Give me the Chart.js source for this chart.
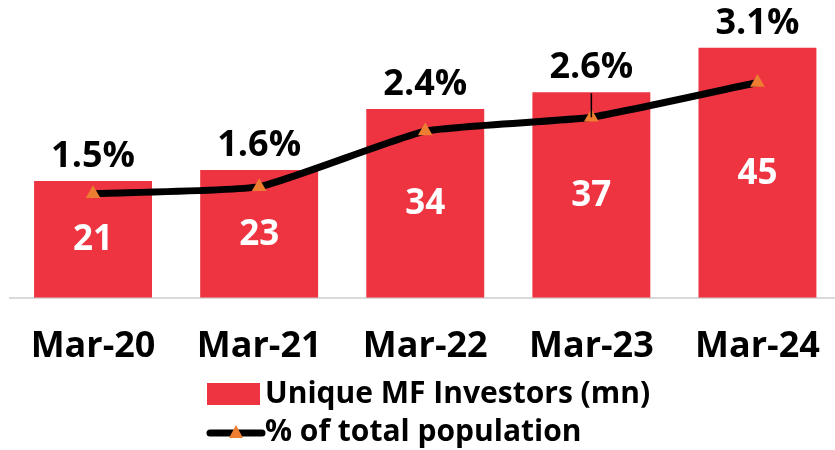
<!DOCTYPE html>
<html>
<head>
<meta charset="utf-8">
<script src="https://cdn.jsdelivr.net/npm/chart.js@4.4.1/dist/chart.umd.min.js"></script>
<style>
  html, body { margin: 0; padding: 0; background: #ffffff; overflow: hidden; }
  #wrap { position: relative; width: 849px; height: 450px; }
</style>
</head>
<body>
<div id="wrap"><canvas id="c" width="849" height="450"></canvas></div>
<script>
const categories = ['Mar-20', 'Mar-21', 'Mar-22', 'Mar-23', 'Mar-24'];
const investors = [21, 23, 34, 37, 45];
const pctPopulation = [1.5, 1.6, 2.4, 2.6, 3.1];
const pctLabels = ['1.5%', '1.6%', '2.4%', '2.6%', '3.1%'];
const seriesNames = ['Unique MF Investors (mn)', '% of total population'];

const FONT = '"Open Sans", "DejaVu Sans", sans-serif';
const RED = '#EE3440';
const ORANGE = '#ED7D31';

const labelPlugin = {
  id: 'labels',
  afterDatasetsDraw(chart) {
    const ctx = chart.ctx;
    const barMeta = chart.getDatasetMeta(0);
    const lineMeta = chart.getDatasetMeta(1);
    ctx.save();
    barMeta.data.forEach((bar, i) => {
      // value inside bar
      ctx.fillStyle = '#ffffff';
      ctx.font = 'bold 35px ' + FONT;
      ctx.textAlign = 'center';
      ctx.textBaseline = 'middle';
      ctx.fillText(String(investors[i]), bar.x, (bar.y + bar.base) / 2 + 1);
      // percentage above bar
      ctx.fillStyle = '#000000';
      ctx.font = 'bold 36px ' + FONT;
      ctx.textBaseline = 'alphabetic';
      ctx.fillText(pctLabels[i], bar.x, bar.y - 14);
    });
    // leader line for Mar-23
    const p = lineMeta.data[3];
    const b = barMeta.data[3];
    ctx.strokeStyle = '#000000';
    ctx.lineWidth = 1.5;
    ctx.beginPath();
    ctx.moveTo(p.x, b.y + 1);
    ctx.lineTo(p.x, p.y);
    ctx.stroke();
    ctx.restore();
  },
  afterDraw(chart) {
    const ctx = chart.ctx;
    ctx.save();
    const x0 = 207;
    // bar legend
    ctx.fillStyle = RED;
    ctx.fillRect(x0, 383, 53, 22);
    ctx.fillStyle = '#000000';
    ctx.font = 'bold 30px ' + FONT;
    ctx.textAlign = 'left';
    ctx.textBaseline = 'middle';
    ctx.fillText(seriesNames[0], 265, 394);
    // line legend
    ctx.strokeStyle = '#000000';
    ctx.lineWidth = 7;
    ctx.lineCap = 'round';
    ctx.beginPath();
    ctx.moveTo(x0 + 3, 433);
    ctx.lineTo(x0 + 55, 433);
    ctx.stroke();
    ctx.fillStyle = ORANGE;
    ctx.beginPath();
    ctx.moveTo(x0 + 29, 425);
    ctx.lineTo(x0 + 36, 438);
    ctx.lineTo(x0 + 22, 438);
    ctx.closePath();
    ctx.fill();
    ctx.fillStyle = '#000000';
    ctx.fillText(seriesNames[1], 265, 432);
    ctx.restore();
  }
};

new Chart(document.getElementById('c'), {
  type: 'bar',
  data: {
    labels: categories,
    datasets: [
      {
        type: 'bar',
        label: seriesNames[0],
        data: investors,
        backgroundColor: RED,
        yAxisID: 'y',
        categoryPercentage: 1.0,
        barPercentage: 0.71,
        order: 2
      },
      {
        type: 'line',
        label: seriesNames[1],
        data: pctPopulation,
        borderColor: '#000000',
        borderWidth: 7,
        tension: 0.15,
        pointStyle: 'triangle',
        pointRadius: 8.5,
        pointBackgroundColor: ORANGE,
        pointBorderColor: ORANGE,
        pointBorderWidth: 0,
        yAxisID: 'y2',
        order: 1
      }
    ]
  },
  options: {
    responsive: false,
    animation: false,
    devicePixelRatio: 1,
    layout: { padding: { left: 10, right: 0, top: 20, bottom: 55 } },
    plugins: {
      legend: { display: false },
      tooltip: { enabled: false }
    },
    scales: {
      x: {
        grid: { display: false, drawTicks: false },
        border: { display: true, color: '#d9d9d9', width: 2 },
        ticks: {
          color: '#000000',
          font: { family: FONT, size: 36, weight: 'bold' },
          padding: 27,
          maxRotation: 0
        }
      },
      y: {
        display: false,
        min: 0,
        max: 50
      },
      y2: {
        display: false,
        position: 'right',
        min: 0,
        max: 4
      }
    }
  },
  plugins: [labelPlugin]
});
</script>
</body>
</html>
